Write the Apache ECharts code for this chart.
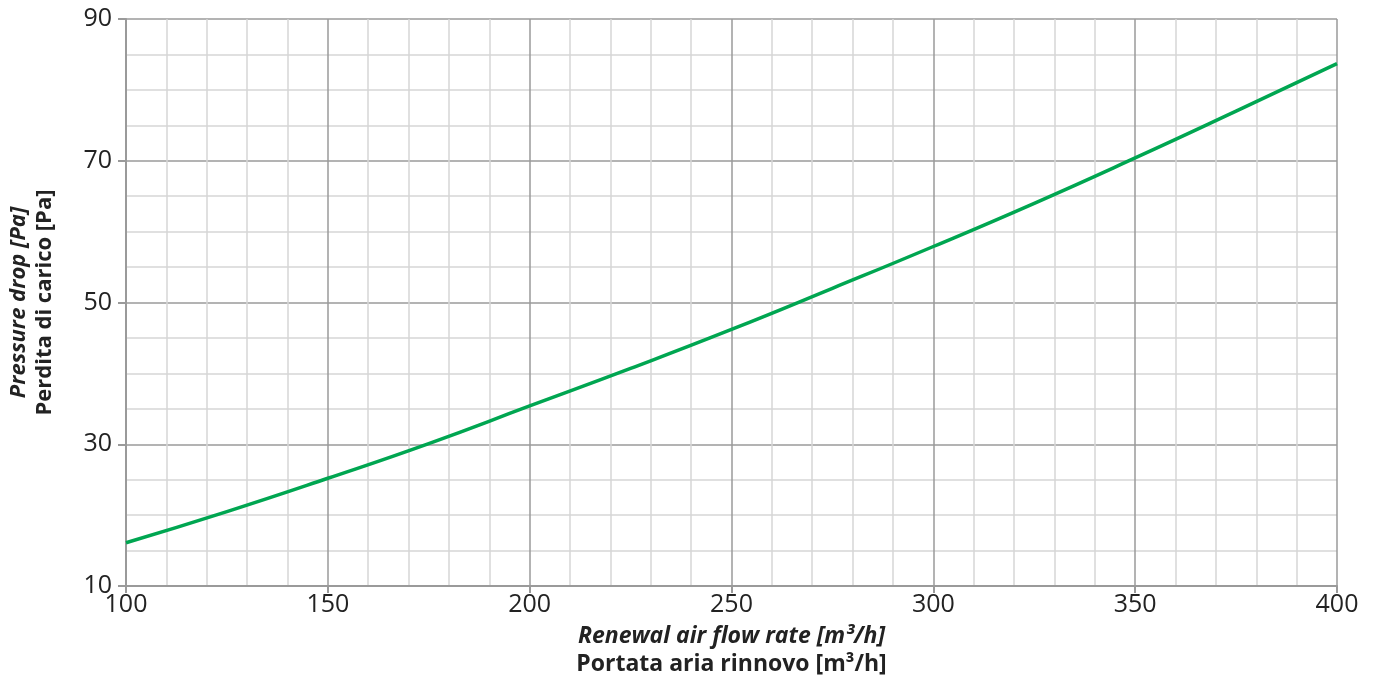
<!DOCTYPE html>
<html>
<head>
<meta charset="utf-8">
<script src="https://cdn.jsdelivr.net/npm/echarts@6/dist/echarts.min.js"></script>
<style>
  html, body { margin: 0; padding: 0; background: #fff; }
  #chart { width: 1374px; height: 682px; }
</style>
</head>
<body>
<div id="chart"></div>
<script>
// air flow rate [m3/h]
const flowRates = [100, 125, 150, 175, 200, 225, 250, 275, 300, 325, 350, 375, 400];
// pressure drop [Pa]
const pressureDrop = [16.1, 20.5, 25.2, 30.1, 35.4, 40.7, 46.2, 52.0, 57.9, 64.0, 70.4, 77.0, 83.7];

const xName = ['Renewal air flow rate [m³/h]', 'Portata aria rinnovo [m³/h]'];
const yName = ['Pressure drop [Pa]', 'Perdita di carico [Pa]'];

const fontFamily = '"Open Sans", "Noto Sans", sans-serif';
const majorLine = '#9a9a9a';
const minorLine = '#d6d6d6';

const chart = echarts.init(document.getElementById('chart'));

function nameRich(size, lh) {
  return {
    it: { fontFamily, fontSize: size, fontWeight: 'bold', fontStyle: 'italic', color: '#222', lineHeight: lh },
    b: { fontFamily, fontSize: size, fontWeight: 'bold', color: '#222', lineHeight: lh }
  };
}

chart.setOption({
  animation: false,
  grid: { left: 126, right: 37, top: 19, bottom: 96, containLabel: false, outerBoundsMode: 'none' },
  xAxis: {
    type: 'value',
    min: 100,
    max: 400,
    interval: 50,
    name: `{it|${xName[0]}}\n{b|${xName[1]}}`,
    nameLocation: 'middle',
    nameGap: 36,
    nameTextStyle: { rich: nameRich(23, 28) },
    axisLine: { show: true, lineStyle: { color: majorLine, width: 2 } },
    axisTick: { show: true, length: 7, lineStyle: { color: majorLine, width: 2 } },
    axisLabel: { fontFamily, fontSize: 25, color: '#222', margin: 6 },
    splitLine: { show: true, lineStyle: { color: majorLine, width: 1.5 } },
    minorTick: { show: true, splitNumber: 5, length: 0 },
    minorSplitLine: { show: true, lineStyle: { color: minorLine, width: 1.5 } }
  },
  yAxis: {
    type: 'value',
    min: 10,
    max: 90,
    interval: 20,
    name: `{it|${yName[0]}}\n{b|${yName[1]}}`,
    nameLocation: 'middle',
    nameGap: 68,
    nameRotate: 90,
    nameTextStyle: { rich: nameRich(22, 26) },
    axisLine: { show: true, lineStyle: { color: majorLine, width: 2 } },
    axisTick: { show: true, length: 8, lineStyle: { color: majorLine, width: 2 } },
    axisLabel: { fontFamily, fontSize: 25, color: '#222', margin: 14 },
    splitLine: { show: true, lineStyle: { color: majorLine, width: 1.5 } },
    minorTick: { show: true, splitNumber: 4, length: 0 },
    minorSplitLine: { show: true, lineStyle: { color: minorLine, width: 1.5 } }
  },
  series: [{
    type: 'line',
    data: flowRates.map((x, i) => [x, pressureDrop[i]]),
    smooth: true,
    showSymbol: false,
    lineStyle: { color: '#00a651', width: 3.5 },
    clip: false
  }]
});
</script>
</body>
</html>
